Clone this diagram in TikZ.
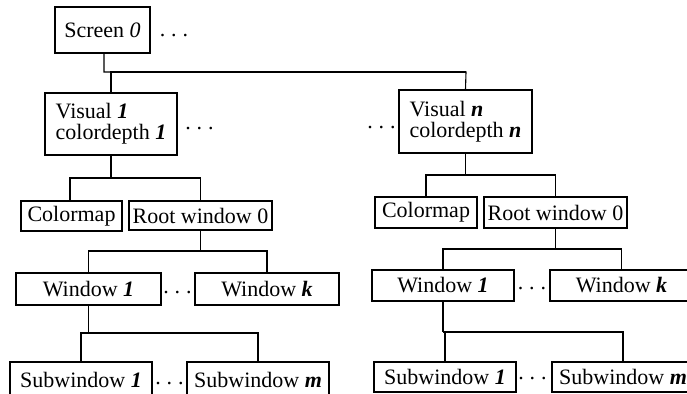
\documentclass[tikz,border=0pt]{standalone}
\usepackage{fontspec}
\setmainfont{Liberation Serif}
\begin{document}
\begin{tikzpicture}[x=1pt,y=1pt,
  box/.style={draw=black,line width=1.1pt,rectangle,inner sep=0pt,font=\fontsize{22}{21}\selectfont},
  vbox/.style={box,align=left},
  dotsnode/.style={inner sep=0pt,anchor=base,font=\fontsize{22}{21}\selectfont},
  conn/.style={line width=1.1pt,black}]
\useasboundingbox (0,0) rectangle (687,393);
\clip (0,0) rectangle (687,393);
\newcommand{\bi}[1]{\textbf{\textit{#1}}}
% nodes
\node[box,minimum width=95,minimum height=46] (scr) at (102.5,363) {Screen \textit{0}};
\node[vbox,minimum width=132,minimum height=62] (v1) at (111,269) {Visual \bi{1}\\colordepth \bi{1}};
\node[vbox,minimum width=133,minimum height=63] (vn) at (465.5,271.5) {Visual \bi{n}\\colordepth \bi{n}};
\node[box,minimum width=101,minimum height=30] (cm1) at (71.5,177) {Colormap};
\node[box,minimum width=143,minimum height=29] (rw1) at (200.5,177.5) {Root window 0};
\node[box,minimum width=102,minimum height=31] (cmn) at (426,180.5) {Colormap};
\node[box,minimum width=143,minimum height=31] (rwn) at (555.5,180.5) {Root window 0};
\node[box,minimum width=145,minimum height=32] (w1a) at (88.5,104) {Window \bi{1}};
\node[box,minimum width=144,minimum height=32] (wka) at (267,104) {Window \bi{k}};
\node[box,minimum width=142,minimum height=31] (w1b) at (443,107.5) {Window \bi{1}};
\node[box,minimum width=143,minimum height=31] (wkb) at (621.5,107.5) {Window \bi{k}};
\node[box,minimum width=142,minimum height=35] (s1a) at (81,13.5) {Subwindow \bi{1}};
\node[box,minimum width=142,minimum height=35] (sma) at (258,13.5) {Subwindow \bi{m}};
\node[box,minimum width=142,minimum height=30] (s1b) at (445,16) {Subwindow \bi{1}};
\node[box,minimum width=142,minimum height=30] (smb) at (623,16) {Subwindow \bi{m}};
% dots
\node[dotsnode] (d0) at (174,356.5) {.\hskip6pt.\hskip6pt.};
\node[dotsnode] (d1) at (199.5,263.5) {.\hskip6pt.\hskip6pt.};
\node[dotsnode] (d2) at (381.5,264.5) {.\hskip6pt.\hskip6pt.};
\node[dotsnode] (d3) at (177.5,99.5) {.\hskip6pt.\hskip6pt.};
\node[dotsnode] (d4) at (532,103.5) {.\hskip6pt.\hskip6pt.};
\node[dotsnode] (d5) at (169.5,8.5) {.\hskip6pt.\hskip6pt.};
\node[dotsnode] (d6) at (532.5,13.5) {.\hskip6pt.\hskip6pt.};
% junctions
\coordinate (b0) at (466,321);
\coordinate (b1) at (111,215);
\coordinate (b2) at (465.5,218);
\coordinate (b3) at (200.5,142);
\coordinate (b4) at (555.5,144);
\coordinate (b5) at (88.5,60);
\coordinate (b6) at (443,61);
% connectors
\draw[conn] ([xshift=1.5pt]scr.south) |- (b0) -- (vn.north);
\draw[conn] (v1.north) |- (b0);
\draw[conn] (v1.south) -- (b1);
\draw[conn] ([xshift=-1.5pt]cm1.north) |- (b1);
\draw[conn] (rw1.north) |- (b1);
\draw[conn] (vn.south) -- (b2);
\draw[conn] (cmn.north) |- (b2);
\draw[conn] (rwn.north) |- (b2);
\draw[conn] (rw1.south) -- (b3);
\draw[conn] (w1a.north) |- (b3);
\draw[conn] (wka.north) |- (b3);
\draw[conn] (rwn.south) -- (b4);
\draw[conn] (w1b.north) |- (b4);
\draw[conn] (wkb.north) |- (b4);
\draw[conn] (w1a.south) -- (b5);
\draw[conn] (s1a.north) |- (b5);
\draw[conn] (sma.north) |- (b5);
\draw[conn] (w1b.south) -- (b6);
\draw[conn] (s1b.north) |- (b6);
\draw[conn] (smb.north) |- (b6);
\end{tikzpicture}
\end{document}
